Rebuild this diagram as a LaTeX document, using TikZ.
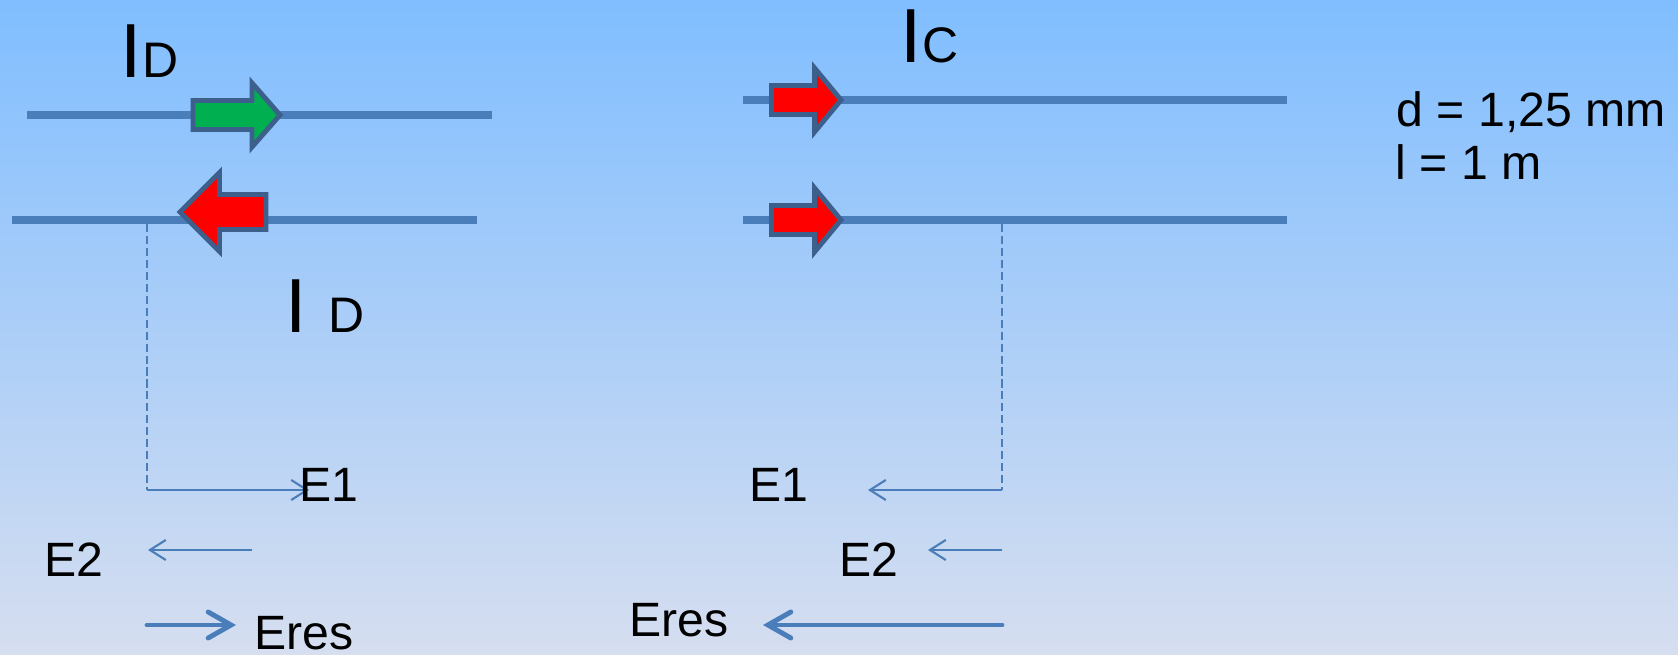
\documentclass[tikz,border=0pt]{standalone}
\usepackage{fontspec}
\setmainfont{Liberation Sans}
\usepackage{xcolor}
\usetikzlibrary{arrows.meta}

\definecolor{wireblue}{HTML}{4A7EBB}
\definecolor{edgeblue}{HTML}{3C5F8C}
\definecolor{curgreen}{HTML}{00B050}
\definecolor{curred}{HTML}{FF0000}
\definecolor{bgtop}{HTML}{80BEFF}
\definecolor{bgbottom}{HTML}{D6DEF0}

\tikzset{
  wire/.style={wireblue, line width=2.2pt},
  current/.style={draw=edgeblue, line width=1.4pt, miter limit=10},
  guide/.style={wireblue, line width=0.5pt, dash pattern=on 2.3pt off 1.1pt},
  field/.style={wireblue, line width=0.6pt, -{Straight Barb[length=4.5pt,width=5.7pt]}},
  fieldres/.style={wireblue, line width=1.4pt, line cap=round, -{Straight Barb[length=6.5pt,width=7.4pt,line cap=round]}},
  lbl/.style={inner sep=0pt, anchor=base west, font=\fontsize{13.7}{16}\selectfont},
}

\begin{document}
\begin{tikzpicture}[x=0.01cm, y=-0.01cm]
                %% background
                \shade[top color=bgtop, bottom color=bgbottom] (0,0) rectangle (1678,655);
                \useasboundingbox (0,0) rectangle (1678,655);

                %% opposite currents
                \coordinate (wa1) at (27,115);
                \coordinate (wa2) at (492,115);
                \coordinate (wb1) at (12,220);
                \coordinate (wb2) at (477,220);
                \draw[wire] (wa1) -- (wa2);
                \draw[wire] (wb1) -- (wb2);

                \draw[current, fill=curgreen] (280,115) -- (252,83) -- (252,100.5) -- (193,100.5)
                    -- (193,129.5) -- (252,129.5) -- (252,147) -- cycle;
                \draw[current, fill=curred] (180,212) -- (219.5,172.5) -- (219.5,194.5) -- (266,194.5)
                    -- (266,229.5) -- (219.5,229.5) -- (219.5,251.5) -- cycle;

                \node[lbl] (idtop) at (120,78) {{\fontsize{21.8}{24}\selectfont I}\fontsize{14.2}{16}\selectfont D};
                \node[lbl] (idbot) at (285,333) {{\fontsize{21.8}{24}\selectfont I\ }\fontsize{14.2}{16}\selectfont D};

                %E left
                \coordinate (pl) at (147,224);
                \coordinate (pl1) at (147,490);
                \coordinate (e1la) at (309,490);
                \coordinate (e2la) at (252,550);
                \coordinate (e2lb) at (148,550);
                \coordinate (erla) at (147,625);
                \coordinate (erlb) at (236,625);
                \draw[guide] (pl) -- (pl1);
                \draw[field] (pl1) -- (e1la);
                \draw[field] (e2la) -- (e2lb);
                \draw[fieldres] (erla) -- (erlb);

                \node[lbl] (e1l) at (299,502) {E1};
                \node[lbl] (e2l) at (44,577) {E2};
                \node[lbl] (erl) at (254,650) {Eres};

                %% same currents
                \coordinate (wc1) at (743,100);
                \coordinate (wc2) at (1287,100);
                \coordinate (wd1) at (743,220);
                \coordinate (wd2) at (1287,220);
                \draw[wire] (wc1) -- (wc2);
                \draw[wire] (wd1) -- (wd2);

                \draw[current, fill=curred] (841,100) -- (814.5,68) -- (814.5,85.5) -- (771.5,85.5)
                    -- (771.5,114.5) -- (814.5,114.5) -- (814.5,132) -- cycle;
                \draw[current, fill=curred] (841,220) -- (814.5,188) -- (814.5,205.5) -- (771.5,205.5)
                    -- (771.5,234.5) -- (814.5,234.5) -- (814.5,252) -- cycle;

                \node[lbl] (ic) at (900,63) {{\fontsize{21.8}{24}\selectfont I}\fontsize{14.2}{16}\selectfont C};

                %E right
                \coordinate (pr) at (1002,224);
                \coordinate (pr1) at (1002,490);
                \coordinate (e1ra) at (868,490);
                \coordinate (e2ra) at (1002,550);
                \coordinate (e2rb) at (928,550);
                \coordinate (erra) at (1002,625);
                \coordinate (errb) at (763,625);
                \draw[guide] (pr) -- (pr1);
                \draw[field] (pr1) -- (e1ra);
                \draw[field] (e2ra) -- (e2rb);
                \draw[fieldres] (erra) -- (errb);

                \node[lbl] (e1r) at (749,502) {E1};
                \node[lbl] (e2r) at (839,577) {E2};
                \node[lbl] (err) at (629,637) {Eres};

                %% data
                \node[lbl] (dval) at (1396,127) {d = 1,25 mm};
                \node[lbl] (lval) at (1395,180) {l = 1 m};

            \end{tikzpicture}
\end{document}
